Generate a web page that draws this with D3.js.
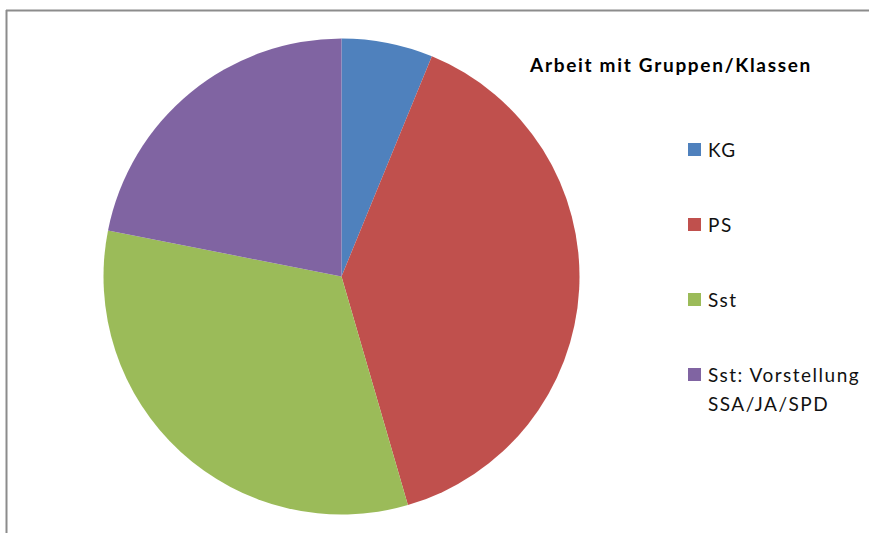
<!DOCTYPE html>
<meta charset="utf-8">
<style>
    body { margin: 0; background: #fff; }
    text { font-family: Lato, "Open Sans", sans-serif; }
</style>
<svg width="869" height="533"></svg>
<script src="https://d3js.org/d3.v7.min.js"></script>
<script>

    // values (share of the pie, %)
    var categories = ["KG", "PS", "Sst", "Sst: Vorstellung SSA/JA/SPD"];
    var values = [6.2, 39.3, 32.6, 21.9];
    var legendLines = [["KG"], ["PS"], ["Sst"], ["Sst: Vorstellung", "SSA/JA/SPD"]];
    var colors = ["#4f81bd", "#c0504d", "#9bbb59", "#8064a2"];
    var title = "Arbeit mit Gruppen/Klassen";

    var svg = d3.select("svg"),
        width = +svg.attr("width"),
        height = +svg.attr("height");

    // frame (only top and left edges visible)
    svg.append("line")
        .attr("x1", 6).attr("y1", 10.5).attr("x2", width).attr("y2", 10.5)
        .attr("stroke", "#8c8c8c").attr("stroke-width", 2);
    svg.append("line")
        .attr("x1", 6.5).attr("y1", 10).attr("x2", 6.5).attr("y2", height)
        .attr("stroke", "#8c8c8c").attr("stroke-width", 2);

    var data = categories.map(function (c, i) {
        return { name: c, value: values[i], color: colors[i] };
    });

    var pie = d3.pie().sort(null).value(function (d) { return d.value; });
    var arc = d3.arc().innerRadius(0).outerRadius(238);

    var g = svg.append("g").attr("transform", "translate(341.5,276.5)");
    g.selectAll("path")
        .data(pie(data))
        .enter().append("path")
        .attr("d", arc)
        .attr("fill", function (d) { return d.data.color; });

    svg.append("text")
        .attr("x", 530).attr("y", 72)
        .attr("font-size", 19)
        .attr("font-weight", "bold")
        .attr("letter-spacing", 1.7)
        .attr("fill", "#000")
        .text(title);

    var legend = svg.append("g");
    var item = legend.selectAll("g")
        .data(data)
        .enter().append("g")
        .attr("transform", function (d, i) { return "translate(688," + (143 + i * 75) + ")"; });

    item.append("rect")
        .attr("width", 13).attr("height", 13)
        .attr("fill", function (d) { return d.color; });

    item.each(function (d, i) {
        var t = d3.select(this).append("text")
            .attr("x", 20).attr("y", 14)
            .attr("font-size", 19)
            .attr("letter-spacing", 1.5)
            .attr("fill", "#111");
        legendLines[i].forEach(function (line, j) {
            t.append("tspan").attr("x", 20).attr("dy", j === 0 ? 0 : 29).text(line);
        });
    });

</script>
